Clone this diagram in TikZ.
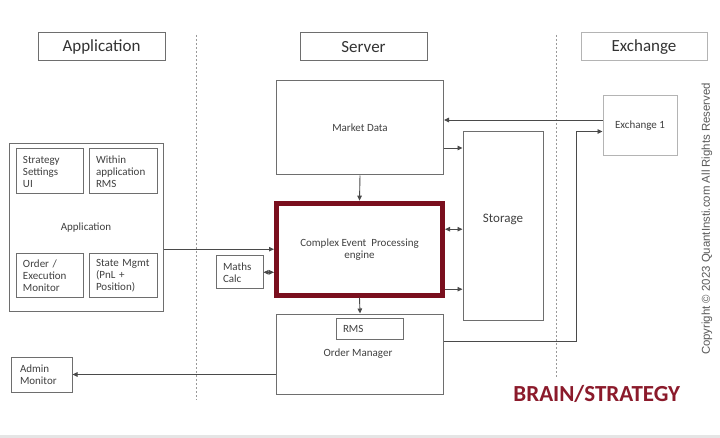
\documentclass[tikz,border=0pt]{standalone}
\usepackage{fontspec}
\setmainfont{Carlito}
\newfontfamily\arialf{Liberation Sans}
\usetikzlibrary{arrows.meta,calc}
\definecolor{boxgray}{HTML}{6E6E6E}
\definecolor{linegray}{HTML}{4A4A4A}
\definecolor{txtgray}{HTML}{404040}
\definecolor{lightgray2}{HTML}{B4B4B4}
\definecolor{cepred}{HTML}{7A0F1E}
\definecolor{brainred}{HTML}{8B1A2B}
\tikzset{
  box/.style={draw=boxgray, line width=1pt, rectangle, inner sep=0pt, text=txtgray,
    font=\fontsize{11}{12}\selectfont},
  lbox/.style={box, align=left, inner xsep=7pt, inner ysep=0pt},
  hdr/.style={box, font=\fontsize{17}{20}\selectfont, text=black!80},
  txt/.style={text=txtgray, font=\fontsize{11}{12}\selectfont, inner sep=0pt},
  arr/.style={draw=linegray, line width=0.9pt, -{Triangle[length=5pt,width=4.5pt]}},
  darr/.style={draw=linegray, line width=0.9pt, {Triangle[length=5pt,width=4.5pt]}-{Triangle[length=5pt,width=4.5pt]}},
  sep/.style={draw=gray!80, line width=0.8pt, dash pattern=on 2pt off 2pt}
}
\begin{document}
\begin{tikzpicture}[x=1pt,y=-1pt]
\useasboundingbox (0,0) rectangle (720,438);
\fill[white] (0,0) rectangle (720,438);
\fill[gray!20] (0,435) rectangle (720,438);

% separators
\coordinate (s1a) at (196,35); \coordinate (s1b) at (196,400);
\coordinate (s2a) at (556.5,35); \coordinate (s2b) at (556.5,378);
\draw[sep] (s1a) -- (s1b);
\draw[sep] (s2a) -- (s2b);

% headers
\node[hdr, minimum width=127pt, minimum height=28pt] (happ) at (101.5,47) {Application};
\node[hdr, minimum width=127pt, minimum height=28pt] (hsrv) at (363.5,47) {Server};
\node[hdr, draw=lightgray2, minimum width=126pt, minimum height=28pt] (hexc) at (644,47) {Exchange};

% application side
\node[box, minimum width=154pt, minimum height=167pt] (app) at (86,227.5) {Application};
\node[lbox, text width=53pt, minimum height=45pt] (strat) at (49.5,171.5) {Strategy\\Settings\\UI};
\node[lbox, text width=54pt, minimum height=45pt] (within) at (123,171.5) {Within\\application\\RMS};
\node[lbox, text width=53pt, minimum height=44pt] (ordmon) at (49.5,276) {Order /\\Execution\\Monitor};
\node[lbox, text width=54pt, minimum height=44pt] (state) at (123,276) {State Mgmt\\(PnL +\\Position)};
\node[lbox, inner xsep=9pt, text width=43pt, minimum height=35pt] (admin) at (41.5,374.5) {Admin\\Monitor};

% server side
\node[box, minimum width=167pt, minimum height=94pt] (md) at (360,128) {Market Data};
\node[box, draw=cepred, line width=5pt, minimum width=166pt, minimum height=92pt, align=center] (cep) at (359.5,249.2) {Complex Event\ \ Processing\\engine};
\node[lbox, text width=33pt, minimum height=33pt] (maths) at (239.5,272.3) {Maths\\Calc};
\node[box, minimum width=166.6pt, minimum height=80pt] (om) at (360,354) {};
\node[txt] (omlbl) at (358,353.5) {Order Manager};
\node[lbox, text width=53pt, minimum height=21pt] (rms) at (369.5,328.5) {RMS};
\node[box, minimum width=80pt, minimum height=188pt] (storage) at (503,226) {};
\node[txt, font=\fontsize{13}{15}\selectfont] (storlbl) at (503,219) {Storage};

% exchange side
\node[box, draw=lightgray2, minimum width=74pt, minimum height=60pt] (ex1) at (640,126) {Exchange 1};

% connectors
\draw[arr] (md.south) -- (cep.north);
\draw[arr] (cep.south) -- (om.north);
\draw[arr] (app.east |- cep.west) -- (cep.west);
\draw[darr] (maths.east) -- (maths.east -| cep.west);
\coordinate (p1) at ($(md.east)+(0,20)$);
\draw[arr] (p1) -- (p1 -| storage.west);
\coordinate (p2) at ($(cep.east)+(0,-20)$);
\draw[darr] (p2) -- (p2 -| storage.west);
\coordinate (p3) at ($(cep.east)+(0,40)$);
\draw[arr] (p3) -- (p3 -| storage.west);
\coordinate (p4) at ($(ex1.west)+(0,-6)$);
\draw[arr] (p4) -- (p4 -| md.east);
\coordinate (j1) at (576,341);
\coordinate (p5) at ($(ex1.west)+(0,5.5)$);
\draw[arr] (om.east |- j1) -- (j1) |- (p5);
\draw[arr] (om.west |- admin.east) -- (admin.east);

% labels
\node[font=\bfseries\fontsize{23}{26}\selectfont, text=brainred, anchor=base, inner sep=0pt] (brain) at (596.7,401.7) {BRAIN/STRATEGY};
\node[font=\arialf\fontsize{11.4}{13}\selectfont, text=black!65, rotate=90, inner sep=0pt] (copy) at (707,219) {Copyright © 2023 QuantInsti.com All Rights Reserved};
\end{tikzpicture}
\end{document}
